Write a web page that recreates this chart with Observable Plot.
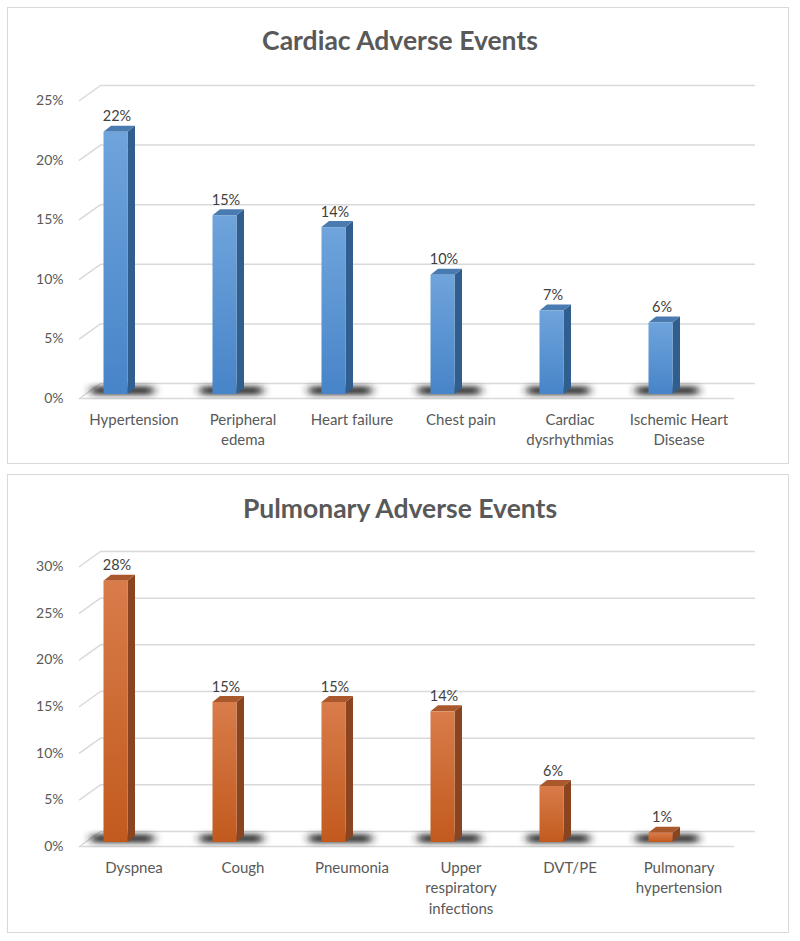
<!DOCTYPE html>
<html>
<head>
<meta charset="utf-8">
<script src="https://cdn.jsdelivr.net/npm/d3@7"></script>
<script src="https://cdn.jsdelivr.net/npm/@observablehq/plot@0.6"></script>
<style>
  html, body { margin: 0; padding: 0; background: #fff; }
  #wrap { position: relative; width: 800px; height: 941px; overflow: hidden; font-family: Lato, "Liberation Sans", sans-serif; }
  .panel { position: absolute; left: 7px; width: 782px; border: 1.5px solid #d9d9d9; box-sizing: border-box; }
  .title { position: absolute; left: 0; width: 800px; text-align: center; font-weight: bold; font-size: 26.5px; line-height: 30px; color: #595959; }
  .chart { position: absolute; left: 0; }
</style>
</head>
<body>
<div id="wrap">
  <div class="panel" style="top:7px;height:457px;"></div>
  <div class="panel" style="top:474px;height:459px;"></div>
  <div class="title" style="top:25px;">Cardiac Adverse Events</div>
  <div class="title" style="top:493px;">Pulmonary Adverse Events</div>
  <div class="chart" id="c1" style="top:0px;"></div>
  <div class="chart" id="c2" style="top:470px;"></div>
</div>
<script>
// ---- data ----
const cardiacCategories = ["Hypertension", "Peripheral\nedema", "Heart failure", "Chest pain", "Cardiac\ndysrhythmias", "Ischemic Heart\nDisease"];
const cardiacValues = [22, 15, 14, 10, 7, 6];
const cardiacTicks = [0, 5, 10, 15, 20, 25];

const pulmonaryCategories = ["Dyspnea", "Cough", "Pneumonia", "Upper\nrespiratory\ninfections", "DVT/PE", "Pulmonary\nhypertension"];
const pulmonaryValues = [28, 15, 15, 14, 6, 1];
const pulmonaryTicks = [0, 5, 10, 15, 20, 25, 30];

const bluePalette = {top: "#4a7bb0", side: "#2f5e8f", frontTop: "#6fa4dc", frontBottom: "#4784c8", label: "#404040"};
const orangePalette = {top: "#a9582c", side: "#8a4520", frontTop: "#d87c4a", frontBottom: "#c25a1e", label: "#404040"};

function makeChart({id, cats, vals, ticks, yMax, height, marginTop, marginBottom, palette}) {
  const W = 800, ML = 79, MR = 67;
  const n = cats.length;
  const U = (W - ML - MR) / n;                     // px per category
  const ppp = (height - marginTop - marginBottom) / yMax; // px per percent
  const wallDX = 21 / U, wallDY = 15 / ppp;
  const barOff = 18 / U, half = 12 / U, depX = 7.5 / U, depY = 6 / ppp;

  const bars = vals.map((v, i) => ({i, v, cx: i + 0.5 - barOff}));
  const wall = ticks.flatMap(t => [
    {t, x: 0, y: t},
    {t, x: wallDX, y: t + wallDY},
    {t, x: n + wallDX, y: t + wallDY}
  ]);
  const floor = [{x: 0, y: 0}, {x: n, y: 0}];
  const side = bars.flatMap(d => [
    {k: d.i, x: d.cx + half, y1: 0, y2: d.v},
    {k: d.i, x: d.cx + half + depX, y1: depY, y2: d.v + depY}
  ]);
  const topFace = bars.flatMap(d => [
    {k: d.i, x: d.cx - half, y1: d.v, y2: d.v},
    {k: d.i, x: d.cx - half + depX, y1: d.v, y2: d.v + depY},
    {k: d.i, x: d.cx + half, y1: d.v, y2: d.v + depY},
    {k: d.i, x: d.cx + half + depX, y1: d.v + depY, y2: d.v + depY}
  ]);
  const cat = cats.map((c, i) => ({c, i}));
  const SHADOW = "#1e1e1f";

  const svg = Plot.plot({
    width: W, height, marginLeft: ML, marginRight: MR, marginTop, marginBottom,
    style: {fontFamily: "Lato, 'Liberation Sans', sans-serif", fontSize: "14px", color: "#595959", background: "transparent", overflow: "visible"},
    x: {domain: [0, n], axis: null},
    y: {domain: [0, yMax], ticks, tickFormat: d => d + "%", tickSize: 0, tickPadding: 16, label: null},
    marks: [
      Plot.line(wall, {x: "x", y: "y", z: "t", stroke: "#d9d9d9", strokeWidth: 1.5}),
      Plot.line(floor, {x: "x", y: "y", stroke: "#d9d9d9", strokeWidth: 1.5}),
      Plot.rect(bars, {x1: d => d.cx - half - 12 / U, x2: d => d.cx + half + depX + 18 / U,
        y1: () => 3 / ppp, y2: () => 12 / ppp, fill: SHADOW, fillOpacity: 0.85}),
      Plot.area(side, {x1: "x", y1: "y1", y2: "y2", z: "k", fill: palette.side, dy: -4}),
      Plot.area(topFace, {x1: "x", y1: "y1", y2: "y2", z: "k", fill: palette.top, dy: -4}),
      Plot.rect(bars, {x1: d => d.cx - half, x2: d => d.cx + half, y1: () => 0, y2: d => d.v,
        fill: `url(#${id}-front)`, dy: -4}),
      Plot.text(bars, {x: d => d.cx + 1 / U, y: d => d.v + depY, text: d => d.v + "%",
        lineAnchor: "bottom", dy: -9, fontSize: 14.5, fill: palette.label}),
      Plot.text(cat, {x: d => d.i + 0.5, y: () => 0, text: d => d.c, lineAnchor: "top",
        dy: 12, fontSize: 15, lineHeight: 1.36, fill: "#595959"})
    ]
  });

  const ns = "http://www.w3.org/2000/svg";
  const defs = document.createElementNS(ns, "defs");
  defs.innerHTML = `
    <linearGradient id="${id}-front" x1="0" y1="0" x2="0" y2="1">
      <stop offset="0" stop-color="${palette.frontTop}"/>
      <stop offset="1" stop-color="${palette.frontBottom}"/>
    </linearGradient>
    <filter id="${id}-blur" x="-20%" y="-200%" width="140%" height="500%">
      <feGaussianBlur stdDeviation="5 2.5"/>
    </filter>`;
  svg.insertBefore(defs, svg.firstChild);
  svg.querySelectorAll(`[fill="${SHADOW}"]`).forEach(el => el.setAttribute("filter", `url(#${id}-blur)`));
  document.getElementById(id).appendChild(svg);
}

makeChart({id: "c1", cats: cardiacCategories, vals: cardiacValues, ticks: cardiacTicks, yMax: 25,
  height: 470, marginTop: 100, marginBottom: 72, palette: bluePalette});
makeChart({id: "c2", cats: pulmonaryCategories, vals: pulmonaryValues, ticks: pulmonaryTicks, yMax: 30,
  height: 471, marginTop: 96, marginBottom: 95, palette: orangePalette});
</script>
</body>
</html>
